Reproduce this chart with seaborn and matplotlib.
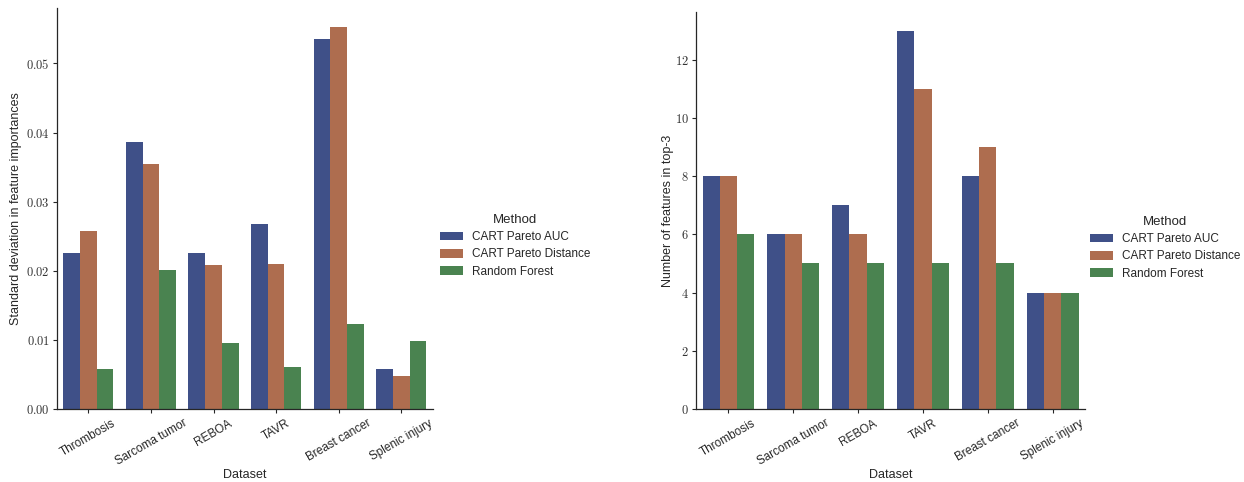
import matplotlib
matplotlib.use("Agg")
import matplotlib.pyplot as plt
import matplotlib.ticker as mticker
import seaborn as sns
import pandas as pd

datasets = ["Thrombosis", "Sarcoma tumor", "REBOA", "TAVR", "Breast cancer", "Splenic injury"]
methods = ["CART Pareto AUC", "CART Pareto Distance", "Random Forest"]
std_auc = [0.02254, 0.03861, 0.02254, 0.02674, 0.05352, 0.00574]
std_dist = [0.02572, 0.03542, 0.02080, 0.02095, 0.05526, 0.00473]
std_rf = [0.00574, 0.02008, 0.00951, 0.00603, 0.01226, 0.00980]
top3_auc = [8, 6, 7, 13, 8, 4]
top3_dist = [8, 6, 6, 11, 9, 4]
top3_rf = [6, 5, 5, 5, 5, 4]
colors = ["#3f5088", "#ae6d4f", "#4a8350"]

def make_df(a, b, c):
    rows = []
    for m, vals in zip(methods, [a, b, c]):
        for d, v in zip(datasets, vals):
            rows.append({"Dataset": d, "Method": m, "value": v})
    return pd.DataFrame(rows)

sns.set_theme(style="ticks")
plt.rcParams["font.family"] = ["Liberation Sans", "DejaVu Sans"]
plt.rcParams["mathtext.fontset"] = "cm"

fig = plt.figure(figsize=(12.44, 4.82), dpi=100)
ax1 = fig.add_axes([0.0458, 0.1515, 0.302, 0.832])
ax2 = fig.add_axes([0.5595, 0.1515, 0.3127, 0.824])

panels = [
    (ax1, make_df(std_auc, std_dist, std_rf), "Standard deviation in feature importances", "%.2f", (0.345, 0.49), 3),
    (ax2, make_df(top3_auc, top3_dist, top3_rf), "Number of features in top-3", "%d", (0.8675, 0.486), 0.5),
]

for ax, df, ylabel, fmt, legpos, lpad in panels:
    sns.barplot(data=df, x="Dataset", y="value", hue="Method", palette=colors,
                saturation=1, ax=ax, linewidth=0, errorbar=None)
    sns.despine(ax=ax)
    ax.set_ylabel(ylabel, fontsize=9, labelpad=lpad)
    ax.set_xlabel("Dataset", fontsize=9, labelpad=1)
    ax.yaxis.set_major_formatter(mticker.FuncFormatter(lambda v, p, f=fmt: r"$%s$" % (f % v)))
    for lab in ax.get_yticklabels():
        lab.set_fontsize(9)
    ax.tick_params(axis="x", labelsize=8.5, rotation=30, length=3, width=0.8, pad=3)
    ax.tick_params(axis="y", length=3, width=0.8, pad=2, labelcolor="#333333")
    for lab in ax.get_xticklabels():
        lab.set_ha("center")
    h, l = ax.get_legend_handles_labels()
    ax.get_legend().remove()
    fig.legend(h, l, title="Method", loc="center left", bbox_to_anchor=legpos,
               frameon=False, fontsize=8.5, title_fontsize=9.5,
               handlelength=2.0, handleheight=0.75, labelspacing=0.45,
               handletextpad=0.7)
    for s in ax.spines.values():
        s.set_linewidth(0.9)

ax2.yaxis.set_major_locator(mticker.MultipleLocator(2))
fig.savefig("out.png", dpi=100)
